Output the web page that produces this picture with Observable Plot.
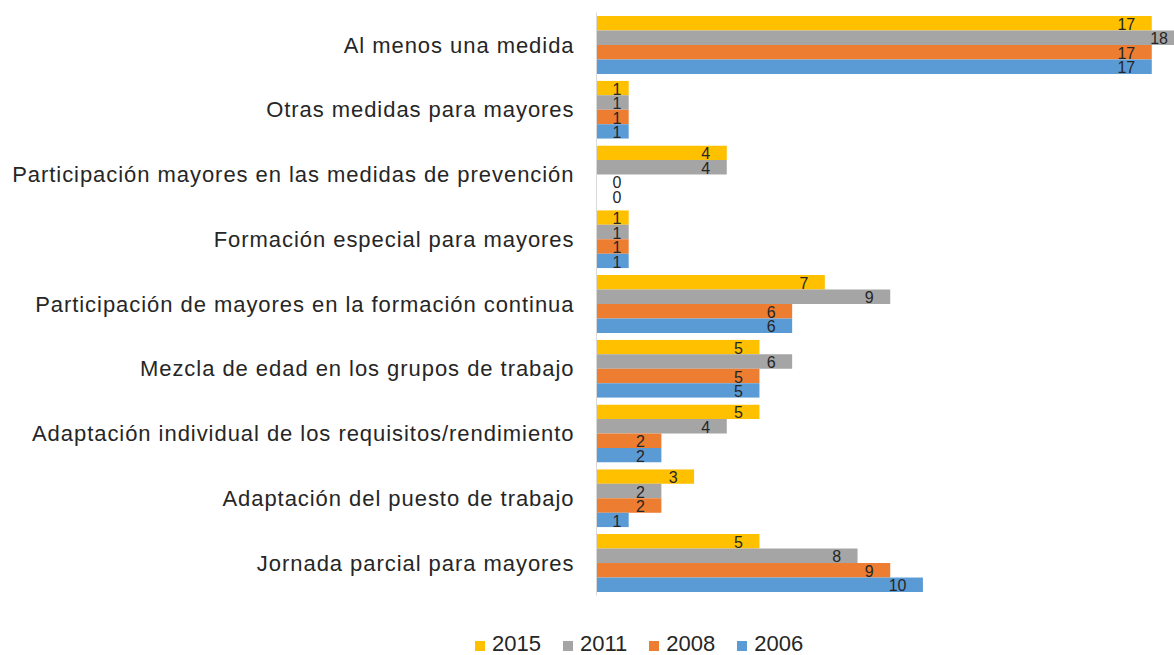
<!DOCTYPE html>
<html><head><meta charset="utf-8">
<script src="https://cdn.jsdelivr.net/npm/d3@7"></script>
<script src="https://cdn.jsdelivr.net/npm/@observablehq/plot@0.6"></script>
<style>
html,body{margin:0;padding:0;background:#fff;overflow:hidden;}
#chart{width:1174px;height:655px;position:relative;font-family:"Liberation Sans",Arial,sans-serif;}
#chart svg{display:block;}
#chart svg [aria-label^="fy-axis"] text{letter-spacing:0.95px;}
.legend{position:absolute;left:475px;top:633px;display:flex;align-items:center;font-size:22px;line-height:22px;color:#262626;}
.item{display:flex;align-items:center;margin-right:22px;}
.sw{width:10px;height:10px;margin-right:7px;position:relative;top:2px;}
</style></head><body><div id="chart"></div>
<script>
const categories = [
  "Al menos una medida",
  "Otras medidas para mayores",
  "Participación mayores en las medidas de prevención",
  "Formación especial para mayores",
  "Participación de mayores en la formación continua",
  "Mezcla de edad en los grupos de trabajo",
  "Adaptación individual de los requisitos/rendimiento",
  "Adaptación del puesto de trabajo",
  "Jornada parcial para mayores"
];
const years = ["2015", "2011", "2008", "2006"];
const colors = ["#FFC000", "#A5A5A5", "#ED7D31", "#5B9BD5"];
const v2015 = [17, 1, 4, 1, 7, 5, 5, 3, 5];
const v2011 = [18, 1, 4, 1, 9, 6, 4, 2, 8];
const v2008 = [17, 1, 0, 1, 6, 5, 2, 2, 9];
const v2006 = [17, 1, 0, 1, 6, 5, 2, 1, 10];
const series = [v2015, v2011, v2008, v2006];

const data = categories.flatMap((c, i) => years.map((y, j) => ({category: c, year: y, value: series[j][i]})));

const font = '"Liberation Sans", Arial, sans-serif';
const plot = Plot.plot({
  width: 1174,
  height: 610,
  marginLeft: 596,
  marginRight: 0,
  marginTop: 12.6,
  marginBottom: 14.6,
  style: {fontFamily: font, fontSize: "22px", color: "#262626", background: "transparent"},
  x: {domain: [0, 17.68], axis: null},
  y: {domain: years, axis: null, paddingInner: 0, paddingOuter: 0, round: false},
  fy: {domain: categories, paddingInner: 0.104, paddingOuter: 0.052, round: false, label: null, tickSize: 0, tickPadding: 22},
  color: {domain: years, range: colors},
  marks: [
    Plot.barX(data, {fy: "category", y: "year", x: "value", fill: "year", clip: true}),
    Plot.text(data, {
      fy: "category", y: "year",
      x: d => Math.max(d.value, 1.28),
      text: d => String(d.value),
      textAnchor: "end", dx: -17, dy: 1,
      fontSize: 16, fill: "#262626"
    }),
    Plot.ruleX([0], {stroke: "#d9d9d9", insetTop: -3.4, insetBottom: -3.4})
  ]
});
const chart = document.getElementById("chart");
chart.appendChild(plot);

const legend = document.createElement("div");
legend.className = "legend";
years.forEach((y, j) => {
  const it = document.createElement("div");
  it.className = "item";
  const sw = document.createElement("span");
  sw.className = "sw";
  sw.style.background = colors[j];
  const t = document.createElement("span");
  t.textContent = y;
  it.appendChild(sw); it.appendChild(t);
  legend.appendChild(it);
});
chart.appendChild(legend);
</script>
</body></html>
